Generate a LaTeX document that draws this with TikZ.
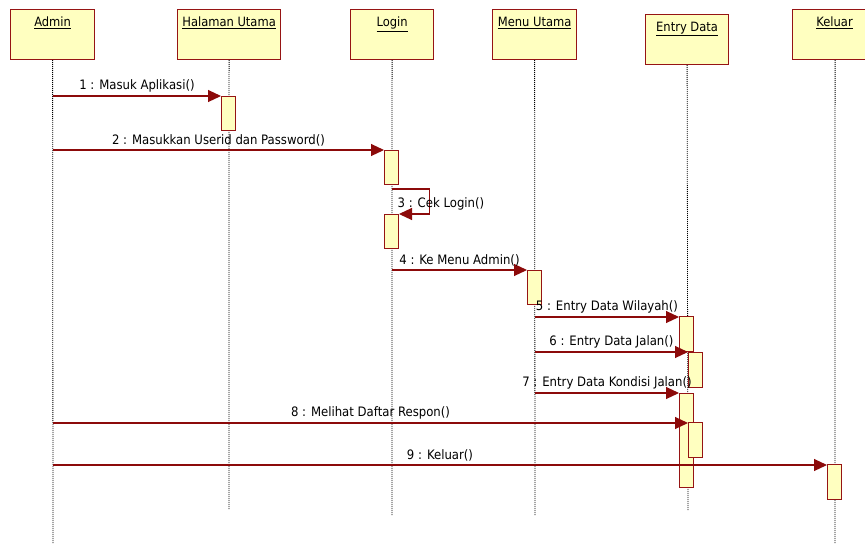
\documentclass[tikz,border=0pt]{standalone}
\usepackage{fontspec}
\setmainfont{DejaVu Sans Condensed}
\usetikzlibrary{arrows.meta}
\definecolor{boxfill}{RGB}{255,255,192}
\definecolor{boxline}{RGB}{150,20,20}
\definecolor{msgline}{RGB}{140,10,10}
\begin{document}
\begin{tikzpicture}[x=1pt,y=-1pt,
  obj/.style={draw=boxline,fill=boxfill,line width=1.2pt,minimum width=84pt,minimum height=50pt,anchor=north west,inner sep=0pt},
  objtxt/.style={anchor=north,inner sep=0pt,font=\fontsize{12.8}{15}\selectfont},
  act/.style={draw=boxline,fill=boxfill,line width=1pt,minimum width=14pt,anchor=north west,inner sep=0pt},
  life/.style={draw=black,line width=0.8pt,dash pattern=on 1pt off 1pt},
  msg/.style={draw=msgline,line width=1.1pt,-{Triangle[length=13pt,width=12pt]}},
  lbl/.style={inner sep=1pt,font=\fontsize{13}{15}\selectfont},
  mlbl/.style={lbl,midway,above=2.5pt}
]
\useasboundingbox (0,0) rectangle (865,544);
\fill[white] (0,0) rectangle (865,544);

% object boxes
\node[obj] (admin) at (10,9) {};
\node[obj,minimum width=103pt] (halaman) at (177,9) {};
\node[obj,minimum width=83pt] (login) at (350,9) {};
\node[obj] (menu) at (492,9) {};
\node[obj,minimum width=83pt] (entry) at (645,14) {};
\node[obj,minimum width=86pt] (keluar) at (792,9) {};

\node[objtxt] at ([yshift=-8pt]admin.north) {\underline{Admin}};
\node[objtxt] at ([yshift=-8pt]halaman.north) {\underline{Halaman Utama}};
\node[objtxt] at ([yshift=-8pt]login.north) {\underline{Login}};
\node[objtxt] at ([yshift=-8pt]menu.north) {\underline{Menu Utama}};
\node[objtxt] at ([yshift=-8pt]entry.north) {\underline{Entry Data}};
\node[objtxt] at ([yshift=-8pt,xshift=-1pt]keluar.north) {\underline{Keluar}};

% lifeline ends
\coordinate (adminEnd) at (53,544);
\coordinate (halamanEnd) at (229,510);
\coordinate (loginEnd) at (392,515);
\coordinate (menuEnd) at (535,515);
\coordinate (entryEnd) at (688,510);
\coordinate (keluarEnd) at (835,544);

\draw[life] (admin.south) -- (adminEnd);
\draw[life] (halaman.south) -- (halamanEnd);
\draw[life] (login.south) -- (loginEnd);
\draw[life] (menu.south) -- (menuEnd);
\draw[life] (entry.south) -- (entryEnd);
\draw[life] ([xshift=-0.5pt]keluar.south) -- (keluarEnd);

% activations
\node[act,minimum height=34pt] (h1) at (221,96) {};
\node[act,minimum height=34pt] (l1) at (384,150) {};
\node[act,minimum height=34pt] (l2) at (384,214) {};
\node[act,minimum height=34pt] (m1) at (527,270) {};
\node[act,minimum height=35pt] (e1) at (679,316) {};
\node[act,minimum height=35pt] (e2) at (688,352) {};
\node[act,minimum height=94pt] (e3) at (679,393) {};
\node[act,minimum height=35pt] (e4) at (688,422) {};
\node[act,minimum height=35pt] (k1) at (827,464) {};

% messages
\draw[msg] (adminEnd |- h1.north west) -- (h1.north west)
  node[mlbl] {1 : Masuk Aplikasi()};
\draw[msg] (adminEnd |- l1.north west) -- (l1.north west)
  node[mlbl] {2 : Masukkan Userid dan Password()};
\draw[msg] ([yshift=-4pt]l1.south) -- ++(38,0) |- (l2.north east);
\node[lbl,anchor=west] at ([xshift=5pt,yshift=-19pt]l1.south) {3 : Cek Login()};
\draw[msg] (loginEnd |- m1.north west) -- (m1.north west)
  node[mlbl] {4 : Ke Menu Admin()};
\draw[msg] ([yshift=-1pt]menuEnd |- e1.north west) -- ([yshift=-1pt]e1.north west)
  node[mlbl] {5 : Entry Data Wilayah()};
\draw[msg] (menuEnd |- e2.north west) -- (e2.north west)
  node[mlbl] {6 : Entry Data Jalan()};
\draw[msg] (menuEnd |- e3.north west) -- (e3.north west)
  node[mlbl] {7 : Entry Data Kondisi Jalan()};
\draw[msg] ([yshift=-1pt]adminEnd |- e4.north west) -- ([yshift=-1pt]e4.north west)
  node[mlbl] {8 : Melihat Daftar Respon()};
\draw[msg] ([yshift=-1pt]adminEnd |- k1.north west) -- ([yshift=-1pt]k1.north west)
  node[mlbl] {9 : Keluar()};
\end{tikzpicture}
\end{document}
